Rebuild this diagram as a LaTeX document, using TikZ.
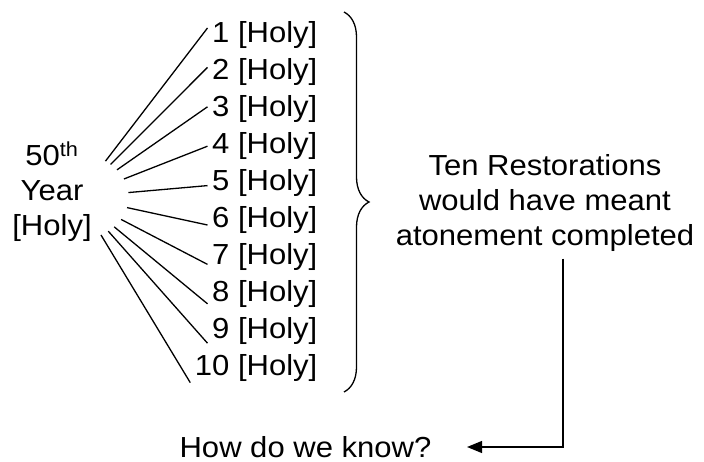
\documentclass[tikz,border=0pt]{standalone}
\usepackage{fontspec}
\setmainfont{Liberation Sans}[FakeStretch = 1.07]
\usepackage{tikz}
\usetikzlibrary{arrows.meta}
\usetikzlibrary{shapes.geometric}
\usetikzlibrary{decorations.pathreplacing}
\tikzset{holy/.style = {font = \fontsize{29}{35}\selectfont, inner ysep = 2pt, inner xsep = 4pt}}
\tikzset{hubring/.style = {ellipse, minimum width = 100pt, minimum height = 84pt, inner sep = 0pt}}

\begin{document}
\begin{tikzpicture}[x = 1pt, y = 1pt, line width = 1.3pt]
    \useasboundingbox (0, 0) rectangle (704, -462);
    \node [holy, align = center] (year) at (52, -192) {50\textsuperscript{th}\\Year\\{[Holy]}};
    \node [hubring] (hub) at (78, -197) {};
    \foreach \i in {1, ..., 10} {
        \node [holy, anchor = base east] (item\i) at (322, {-43 - 36.9*(\i - 1)}) {\i\ [Holy]};
        \draw (hub) -- ([yshift = {7.5 - 2.5*(\i - 1)}] item\i.west);
    }
    \coordinate (btop) at (344, -12);
    \coordinate (bbot) at (344, -392);
    \draw [decorate, decoration = {brace, amplitude = 25pt}] (btop) -- (bbot);
    \node [holy, align = center] (restore) at (545, -203.5) {Ten Restorations\\would have meant\\atonement completed};
    \node [holy] (know) at (305.5, -447) {How do we know?};
    \draw [-{Triangle[length = 15pt, width = 12pt]}, shorten < = 4pt, shorten > = 31pt] ([xshift = 18pt] restore.south) |- (know.east);
\end{tikzpicture}
\end{document}
